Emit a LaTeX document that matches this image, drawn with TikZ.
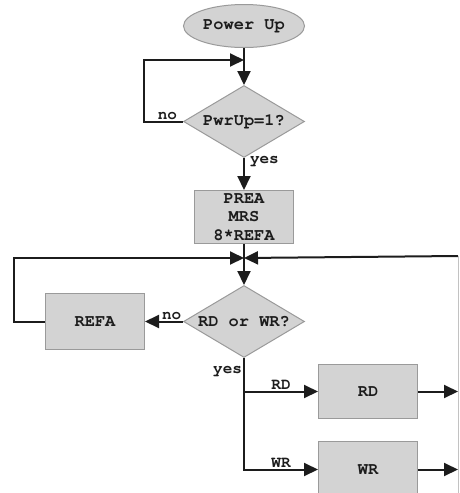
\documentclass[tikz,border=0pt]{standalone}
\usepackage{fontspec}
\setmonofont{TeX Gyre Cursor}
\usetikzlibrary{shapes.geometric,positioning,arrows.meta}
\definecolor{boxgray}{HTML}{D3D3D3}
\definecolor{edgegray}{HTML}{9A9A9A}
\definecolor{ink}{HTML}{1C1C1C}
\tikzset{
  shapebox/.style={draw=edgegray, fill=boxgray, line width=1pt, text=ink,
    font=\ttfamily\bfseries\fontsize{17}{18.5}\selectfont},
  terminal/.style={shapebox, ellipse, minimum width=121pt, minimum height=43pt, inner sep=0pt},
  decision/.style={shapebox, diamond, aspect=1.68, minimum width=121pt, minimum height=72pt, inner sep=0pt},
  process/.style={shapebox, rectangle, minimum width=99pt, minimum height=54pt, inner sep=1pt, align=center},
  lbl/.style={font=\ttfamily\bfseries\fontsize{16}{16}\selectfont, text=ink, inner sep=1pt},
  flow/.style={draw=ink, line width=2pt, -{Triangle[length=14pt,width=13pt]}},
}
\begin{document}
\begin{tikzpicture}
\useasboundingbox (0,0) rectangle (459pt,-493pt);
\node[terminal] (pwr) at (244pt,-26pt) {Power Up};
\node[decision, below=37pt of pwr] (chk) {PwrUp=1?};
\node[process, below=32pt of chk, minimum height=53pt] (prea) {PREA\\MRS\\8*REFA};
\node[decision, below=41pt of prea] (rw) {RD or WR?};
\node[process, left=38pt of rw, minimum height=56pt] (refa) {REFA};
\node[process, below right=6pt and 74pt of rw.south] (rd) {RD};
\node[process, below=22pt of rd, minimum height=56pt] (wr) {WR};
\coordinate[above=25pt of chk] (merge);
\coordinate[below=14pt of prea] (join);
\coordinate (rim) at (458pt,-256pt);
\coordinate (rimfoot) at (458pt,-493pt);
\draw[flow] (pwr) -- (chk);
\draw[flow] (chk.west) -- node[lbl, above, pos=0.4] (no1) {no} ++(-39pt,0) |- (merge);
\draw[flow] (chk) -- node[lbl, right, pos=0.12, xshift=4pt] (yes1) {yes} (prea);
\draw[flow] (prea) -- (rw);
\draw[flow] (rw) -- node[lbl, above, pos=0.3] (no2) {no} (refa);
\draw[flow] (refa.west) -- ++(-31pt,0) |- (join);
\draw[flow] (rim) -- (join);
\draw[flow] (rw.south) |- node[lbl, above, pos=0.75] (rdl) {RD} (rd.west);
\draw[flow] (rw.south) |- node[lbl, left, pos=0.06] (yes2) {yes} node[lbl, above, pos=0.75] (wrl) {WR} (wr.west);
\draw[flow] (rd) -- (rd.east -| rim);
\draw[flow] (wr) -- (wr.east -| rim);
\draw[edgegray!60, line width=0.6pt] (rim) -- (rimfoot);
\end{tikzpicture}
\end{document}
